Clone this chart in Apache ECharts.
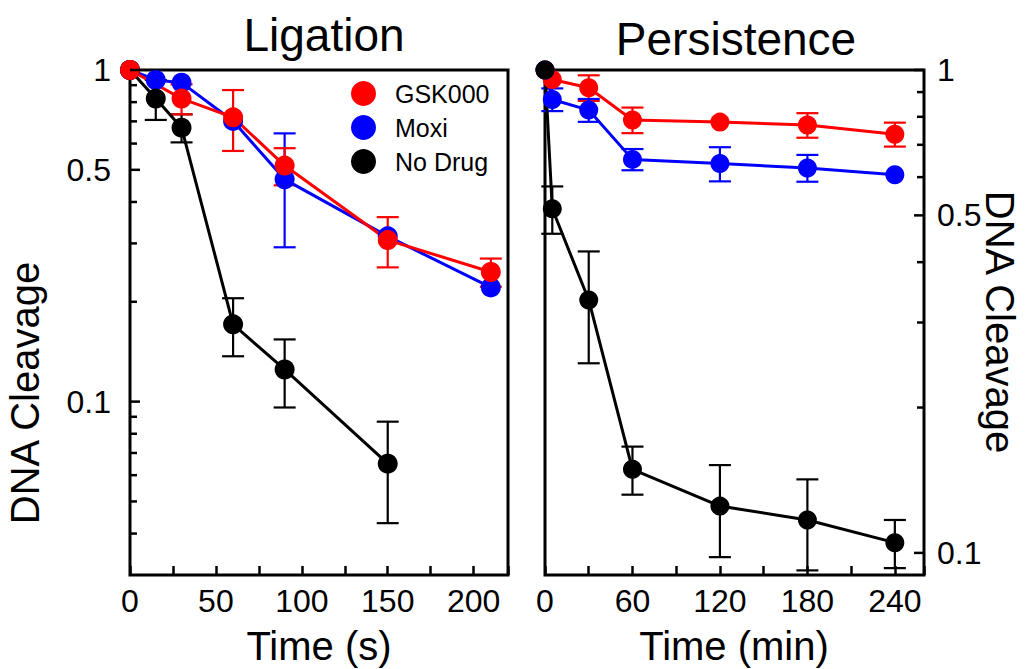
<!DOCTYPE html>
<html>
<head>
<meta charset="utf-8">
<script src="https://cdn.jsdelivr.net/npm/echarts@6/dist/echarts.min.js"></script>
<style>
  html, body { margin: 0; padding: 0; background: #fff; }
  #chart { width: 1028px; height: 669px; }
</style>
</head>
<body>
<div id="chart"></div>
<script>
const FONT = '"Liberation Sans", Arial, Helvetica, sans-serif';

// Ligation, time in s
const ligGskT = [0, 30, 60, 90, 150, 210];
const ligGsk = [1, 0.82, 0.72, 0.515, 0.307, 0.246];
const ligGskSd = [0, 0.085, 0.15, 0.066, 0.053, 0.024];
const ligMoxiT = [0, 15, 30, 60, 90, 150, 210];
const ligMoxi = [1, 0.933, 0.916, 0.702, 0.468, 0.315, 0.221];
const ligMoxiSd = [0, 0, 0, 0, 0.176, 0, 0];
const ligNoT = [0, 15, 30, 60, 90, 150];
const ligNo = [1, 0.82, 0.67, 0.171, 0.125, 0.065];
const ligNoSd = [0, 0.113, 0.065, 0.034, 0.029, 0.022];

// Persistence, time in min
const perT = [0, 5, 30, 60, 120, 180, 240];
const perGsk = [1, 0.956, 0.919, 0.788, 0.78, 0.769, 0.736];
const perGskSd = [0, 0, 0.056, 0.048, 0, 0.045, 0.042];
const perMoxi = [1, 0.869, 0.826, 0.653, 0.64, 0.627, 0.607];
const perMoxiSd = [0, 0.047, 0.045, 0.033, 0.052, 0.04, 0];
const perNo = [1, 0.516, 0.334, 0.149, 0.125, 0.117, 0.105];
const perNoSd = [0, 0.058, 0.087, 0.017, 0.027, 0.025, 0.012];

// ticks
const ligXLabels = [0, 50, 100, 150, 200];
const perXLabels = [0, 60, 120, 180, 240];
const ligYLabels = [1, 0.5, 0.1];
const ligYMinor = [0.9, 0.8, 0.7, 0.6, 0.4, 0.3, 0.2, 0.09, 0.08, 0.07, 0.06, 0.05, 0.04];
const perYLabels = [1, 0.5, 0.1];
const perYMinor = [0.9, 0.8, 0.7, 0.6, 0.4, 0.3, 0.2];

const RED = '#ff0000', BLUE = '#0000ff', BLACK = '#000000';

function lineSeries(name, color, ts, vs, idx, size) {
  return {
    name: name,
    type: 'line',
    xAxisIndex: idx,
    yAxisIndex: idx,
    data: ts.map((t, i) => [t, vs[i]]),
    color: color,
    symbol: 'circle',
    symbolSize: size,
    lineStyle: { width: 3, color: color },
    itemStyle: { color: color },
    emphasis: { disabled: true }
  };
}

function errSeries(color, ts, vs, sd, idx) {
  const data = [];
  ts.forEach((t, i) => {
    if (sd[i] > 0) data.push([t, vs[i] - sd[i], vs[i] + sd[i]]);
  });
  return {
    type: 'custom',
    xAxisIndex: idx,
    yAxisIndex: idx,
    data: data,
    encode: { x: 0, y: [1, 2] },
    silent: true,
    renderItem: (params, api) => {
      const lo = api.coord([api.value(0), api.value(1)]);
      const hi = api.coord([api.value(0), api.value(2)]);
      const w = 11;
      const st = { stroke: color, lineWidth: 2.2 };
      return {
        type: 'group',
        children: [
          { type: 'line', shape: { x1: lo[0], y1: lo[1], x2: hi[0], y2: hi[1] }, style: st },
          { type: 'line', shape: { x1: lo[0] - w, y1: lo[1], x2: lo[0] + w, y2: lo[1] }, style: st },
          { type: 'line', shape: { x1: hi[0] - w, y1: hi[1], x2: hi[0] + w, y2: hi[1] }, style: st }
        ]
      };
    }
  };
}

// y ticks and labels of the log axes (major ones get a label)
function yTickSeries(idx, xEdge, dir, majors, minors) {
  const data = majors.map(v => [xEdge, v, 1]).concat(minors.map(v => [xEdge, v, 0]));
  return {
    type: 'custom',
    xAxisIndex: idx,
    yAxisIndex: idx,
    data: data,
    encode: { x: 0, y: 1 },
    silent: true,
    z: 5,
    renderItem: (params, api) => {
      const p = api.coord([api.value(0), api.value(1)]);
      const major = api.value(2) === 1;
      const len = major ? 10 : 7;
      const children = [
        { type: 'line', shape: { x1: p[0], y1: p[1], x2: p[0] + dir * len, y2: p[1] },
          style: { stroke: '#000', lineWidth: 2.5 } }
      ];
      if (major) {
        children.push({
          type: 'text',
          x: p[0] - dir * (dir > 0 ? 19 : 13),
          y: p[1],
          style: {
            text: String(api.value(1)),
            align: dir > 0 ? 'right' : 'left',
            verticalAlign: 'middle',
            fontSize: 32,
            fontFamily: FONT,
            fill: '#000'
          }
        });
      }
      return { type: 'group', children: children };
    }
  };
}

function xAxis(idx, max, interval, labels) {
  return {
    type: 'value',
    gridIndex: idx,
    min: 0,
    max: max,
    interval: interval,
    axisLine: { show: false },
    axisTick: { inside: true, length: 9, lineStyle: { width: 2.5, color: '#000' } },
    axisLabel: {
      formatter: v => (labels.indexOf(v) >= 0 ? String(v) : ''),
      fontSize: 32, fontFamily: FONT, color: '#000', margin: 10,
      showMaxLabel: true, showMinLabel: true
    },
    splitLine: { show: false }
  };
}

function yAxis(idx, min, pos) {
  return {
    type: 'log',
    logBase: 10,
    gridIndex: idx,
    position: pos,
    min: min,
    max: 1,
    axisLine: { show: false },
    axisTick: { show: false },
    axisLabel: { show: false },
    splitLine: { show: false }
  };
}

function txt(text, x, y, size, rotation) {
  return {
    type: 'text',
    x: x, y: y,
    rotation: rotation || 0,
    style: {
      text: text, fontSize: size, fontFamily: FONT, fill: '#000',
      align: 'center', verticalAlign: 'middle'
    }
  };
}

const chart = echarts.init(document.getElementById('chart'), null, { renderer: 'svg' });

chart.setOption({
  animation: false,
  backgroundColor: '#fff',
  grid: [
    { left: 130, top: 70, right: 520, bottom: 94, show: true, borderColor: '#000', borderWidth: 3, backgroundColor: 'transparent' },
    { left: 545, top: 70, right: 104, bottom: 94, show: true, borderColor: '#000', borderWidth: 3, backgroundColor: 'transparent' }
  ],
  xAxis: [
    xAxis(0, 220, 25, ligXLabels),
    xAxis(1, 260, 30, perXLabels)
  ],
  yAxis: [
    yAxis(0, 0.03, 'left'),
    yAxis(1, 0.09, 'right')
  ],
  legend: {
    data: ['GSK000', 'Moxi', 'No Drug'],
    orient: 'vertical',
    left: 346,
    top: 76,
    icon: 'circle',
    itemWidth: 25,
    itemHeight: 25,
    itemGap: 9,
    selectedMode: false,
    textStyle: { fontSize: 25, fontFamily: FONT, color: '#000', padding: [0, 0, 0, 14] }
  },
  graphic: [
    txt('Ligation', 324, 35, 46),
    txt('Persistence', 736, 39, 46),
    txt('Time (s)', 319, 646, 40),
    txt('Time (min)', 734, 646, 40),
    txt('DNA Cleavage', 25, 393, 40, Math.PI / 2),
    txt('DNA Cleavage', 1000, 322, 40, -Math.PI / 2)
  ],
  series: [
    yTickSeries(0, 0, 1, ligYLabels, ligYMinor),
    yTickSeries(1, 260, -1, perYLabels, perYMinor),

    lineSeries('Moxi', BLUE, ligMoxiT, ligMoxi, 0, 20),
    errSeries(BLUE, ligMoxiT, ligMoxi, ligMoxiSd, 0),
    lineSeries('No Drug', BLACK, ligNoT, ligNo, 0, 20),
    errSeries(BLACK, ligNoT, ligNo, ligNoSd, 0),
    lineSeries('GSK000', RED, ligGskT, ligGsk, 0, 20),
    errSeries(RED, ligGskT, ligGsk, ligGskSd, 0),

    lineSeries('GSK000', RED, perT, perGsk, 1, 19),
    errSeries(RED, perT, perGsk, perGskSd, 1),
    lineSeries('Moxi', BLUE, perT, perMoxi, 1, 19),
    errSeries(BLUE, perT, perMoxi, perMoxiSd, 1),
    lineSeries('No Drug', BLACK, perT, perNo, 1, 19),
    errSeries(BLACK, perT, perNo, perNoSd, 1)
  ]
});
</script>
</body>
</html>
